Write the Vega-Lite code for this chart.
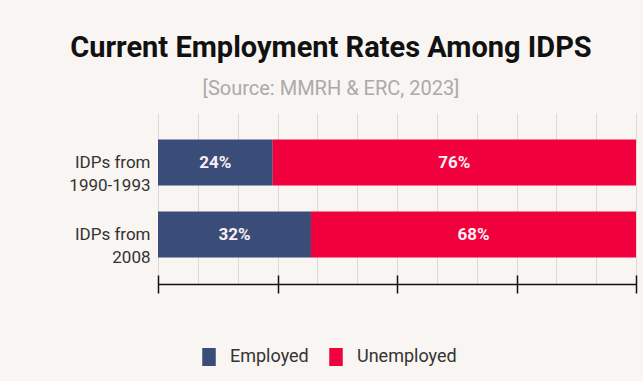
{
  "$schema": "https://vega.github.io/schema/vega-lite/v6.json",
  "width": 478,
  "height": 171,
  "autosize": {"type": "none"},
  "padding": {"left": 158, "top": 113, "right": 7, "bottom": 97},
  "background": "#f8f5f2",
  "config": {"view": {"stroke": null}},
  "title": {
    "text": "Current Employment Rates Among IDPS",
    "subtitle": "[Source: MMRH & ERC, 2023]",
    "anchor": "middle",
    "frame": "group",
    "dx": -66,
    "offset": 14,
    "font": "Roboto",
    "fontSize": 29,
    "fontWeight": "bold",
    "color": "#111111",
    "subtitleFont": "Roboto",
    "subtitleFontSize": 20,
    "subtitleColor": "#aaaaaa",
    "subtitlePadding": 16
  },
  "data": {
    "values": [
      {"group": "IDPs from 1990-1993", "status": "Employed", "share": 0.24},
      {"group": "IDPs from 1990-1993", "status": "Unemployed", "share": 0.76},
      {"group": "IDPs from 2008", "status": "Employed", "share": 0.32},
      {"group": "IDPs from 2008", "status": "Unemployed", "share": 0.68}
    ]
  },
  "layer": [
    {
      "mark": {"type": "bar"},
      "encoding": {
        "y": {
          "field": "group",
          "type": "nominal",
          "sort": null,
          "scale": {"paddingInner": 0.36, "paddingOuter": 0.3675},
          "axis": {
            "title": null,
            "domain": false,
            "ticks": false,
            "labelPadding": 8,
            "labelFont": "Roboto",
            "labelFontSize": 17,
            "labelColor": "#333333",
            "labelLineHeight": 23,
            "labelExpr": "[slice(datum.label,0,9), slice(datum.label,10)]"
          }
        },
        "x": {
          "field": "share",
          "type": "quantitative",
          "stack": "zero",
          "scale": {"domain": [0, 1], "nice": false},
          "axis": {
            "orient": "bottom",
            "title": null,
            "labels": false,
            "ticks": false,
            "domain": true,
            "domainColor": "#111111",
            "domainWidth": 1.5,
            "grid": true,
            "gridColor": "#dcd9d5",
            "gridWidth": 1,
            "values": [0, 0.08333, 0.16667, 0.25, 0.33333, 0.41667, 0.5, 0.58333, 0.66667, 0.75, 0.83333, 0.91667, 1]
          }
        },
        "color": {
          "field": "status",
          "type": "nominal",
          "scale": {"domain": ["Employed", "Unemployed"], "range": ["#3a4c78", "#f0003c"]},
          "legend": {
            "title": null,
            "orient": "none",
            "direction": "horizontal",
            "legendX": 41,
            "legendY": 234,
            "symbolType": "M-0.75,-1H0.75V1H-0.75Z",
            "symbolSize": 324,
            "symbolOpacity": 1,
            "labelFont": "Roboto",
            "labelFontSize": 18,
            "labelColor": "#333333",
            "labelOffset": 11,
            "columnPadding": 17
          }
        }
      }
    },
    {
      "mark": {"type": "text", "font": "Roboto", "fontSize": 17, "fontWeight": "bold", "color": "#fbeff3"},
      "encoding": {
        "y": {"field": "group", "type": "nominal", "sort": null},
        "x": {
          "field": "share",
          "type": "quantitative",
          "stack": "zero",
          "bandPosition": 0.5,
          "axis": {
            "orient": "bottom",
            "title": null,
            "labels": false,
            "domain": false,
            "grid": false,
            "ticks": true,
            "tickSize": 18,
            "tickColor": "#111111",
            "tickWidth": 1.5,
            "offset": -9,
            "values": [0, 0.25, 0.5, 0.75, 1]
          }
        },
        "detail": {"field": "status"},
        "text": {"field": "share", "type": "quantitative", "format": ".0%"}
      }
    }
  ],
  "resolve": {"axis": {"x": "independent"}}
}
